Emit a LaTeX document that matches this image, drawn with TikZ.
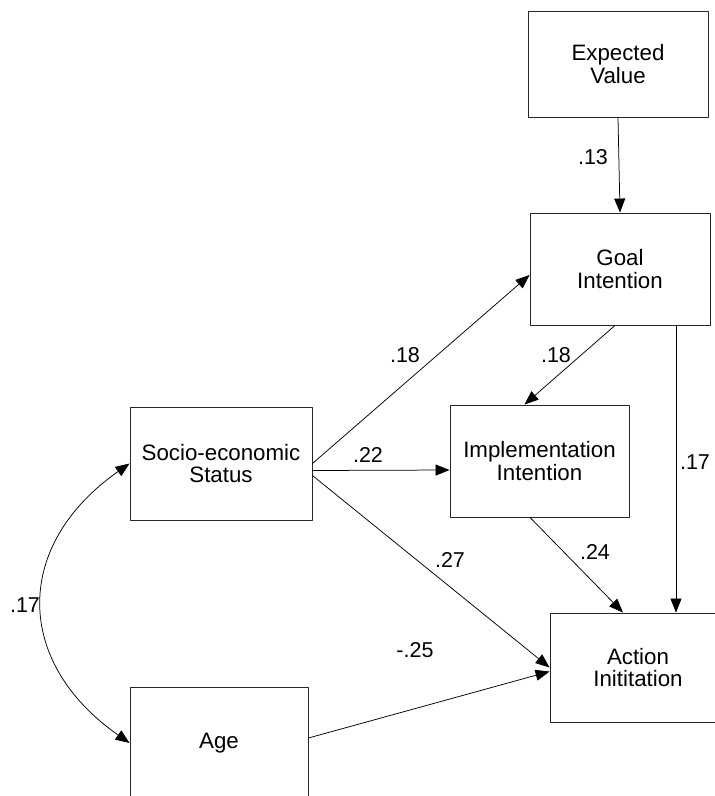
\documentclass[tikz,border=0pt]{standalone}
\usepackage{fontspec}
\setmainfont{Liberation Sans}
\usepackage{tikz}
\usetikzlibrary{arrows.meta,calc}

\begin{document}
\begin{tikzpicture}[x=1pt, y=1pt, >={Triangle[length=14pt,width=11pt]}, line join=round,
    box/.style={draw=black!85, line width=0.9pt, minimum width=180pt, minimum height=110pt,
      inner sep=0pt, align=center, font=\fontsize{22.3}{22.7}\selectfont},
    coef/.style={font=\fontsize{21.5}{22}\selectfont, inner sep=1pt},
    path/.style={->, line width=0.75pt}]
  \useasboundingbox (0,0) rectangle (715,-796);
  \clip (0,0) rectangle (715,-796);
  % boxes
  \node[box, minimum height=106pt] (ev) at (618,-64) {Expected\\Value};
  \node[box, minimum height=112pt] (goal) at (620,-269) {Goal\\Intention};
  \node[box, minimum width=182pt, minimum height=113pt] (ses) at (221,-463.5) {Socio-economic\\Status};
  \node[box, minimum width=179pt, minimum height=112pt] (impl) at (539.5,-461) {Implementation\\Intention};
  \node[box, minimum width=176pt, minimum height=109pt] (act) at (638,-667.5) {Action\\Inititation};
  \node[box, minimum width=178pt, minimum height=112pt] (age) at (219,-743) {Age};
  % paths
  \draw[path] (ev.south) -- (goal.north);
  \draw[path] (ses.east) -- ([yshift=-6pt]goal.west);
  \draw[path] ([yshift=-7pt]ses.east) -- ([yshift=-9pt]impl.west);
  \draw[path] ([yshift=-12pt]ses.east) -- (act.west);
  \draw[path] ([yshift=5pt]age.east) -- ([yshift=-4pt]act.west);
  \draw[path] ([xshift=-5pt]goal.south) -- ([xshift=-15pt]impl.north);
  \draw[path] ([xshift=56pt]goal.south) -- ([xshift=56pt]goal.south |- act.north);
  \draw[path] ([xshift=-9.5pt]impl.south) -- ([xshift=-15pt]act.north);
  \draw[<->, line width=0.75pt] (ses.west) to[out=215, in=145, looseness=1.3] (age.west);
  % coefficients
  \node[coef] (cEV) at (593,-157) {.13};
  \node[coef] (cSG) at (405,-355) {.18};
  \node[coef] (cSI) at (368,-455) {.22};
  \node[coef] (cGI) at (556,-355) {.18};
  \node[coef] (cGA) at (695,-462) {.17};
  \node[coef] (cIA) at (595,-552) {.24};
  \node[coef] (cSA) at (450,-560) {.27};
  \node[coef] (cAA) at (415,-650) {-.25};
  \node[coef] (cSAge) at (25,-605) {.17};
\end{tikzpicture}
\end{document}
